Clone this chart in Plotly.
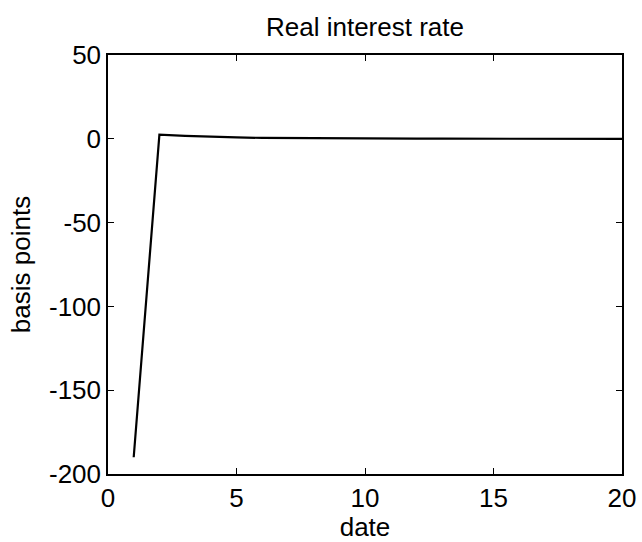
import plotly.graph_objects as go

dates = list(range(1, 21))
rate_bp = [-190.0, 2.5, 1.8, 1.2, 0.8, 0.55, 0.4, 0.28, 0.2, 0.14,
           0.1, 0.07, 0.05, 0.035, 0.025, 0.018, 0.012, 0.008, 0.005, 0.003]
x_ticks = [0, 5, 10, 15, 20]
y_ticks = [-200, -150, -100, -50, 0, 50]

FONT = "Liberation Sans, Arial, sans-serif"
FS = 26

fig = go.Figure()
fig.add_trace(go.Scatter(x=dates, y=rate_bp, mode="lines",
                         line=dict(color="black", width=2.2), showlegend=False))

axis_common = dict(showline=True, linecolor="black", linewidth=1.5, mirror="allticks",
                   ticks="inside", ticklen=6, tickcolor="black", tickwidth=1,
                   showgrid=False, zeroline=False, automargin=False,
                   tickfont=dict(family=FONT, size=FS, color="black"))

fig.update_layout(
    width=642, height=542,
    margin=dict(l=108, r=20, t=55, b=68),
    paper_bgcolor="white", plot_bgcolor="white",
    title=dict(text="Real interest rate", x=(108 + 622) / 2 / 642, xanchor="center",
               y=1 - 27 / 542, yanchor="middle", automargin=False,
               font=dict(family=FONT, size=FS, color="black")),
    xaxis=dict(range=[0, 20], tickvals=x_ticks, ticktext=[str(v) for v in x_ticks],
               title=dict(text="date", standoff=6, font=dict(family=FONT, size=FS, color="black")),
               **axis_common),
    yaxis=dict(range=[-200, 50], tickvals=y_ticks, ticktext=[str(v) for v in y_ticks],
               title=dict(text="basis points", standoff=11, font=dict(family=FONT, size=FS, color="black")),
               **axis_common),
)

fig.write_html("out.html")
